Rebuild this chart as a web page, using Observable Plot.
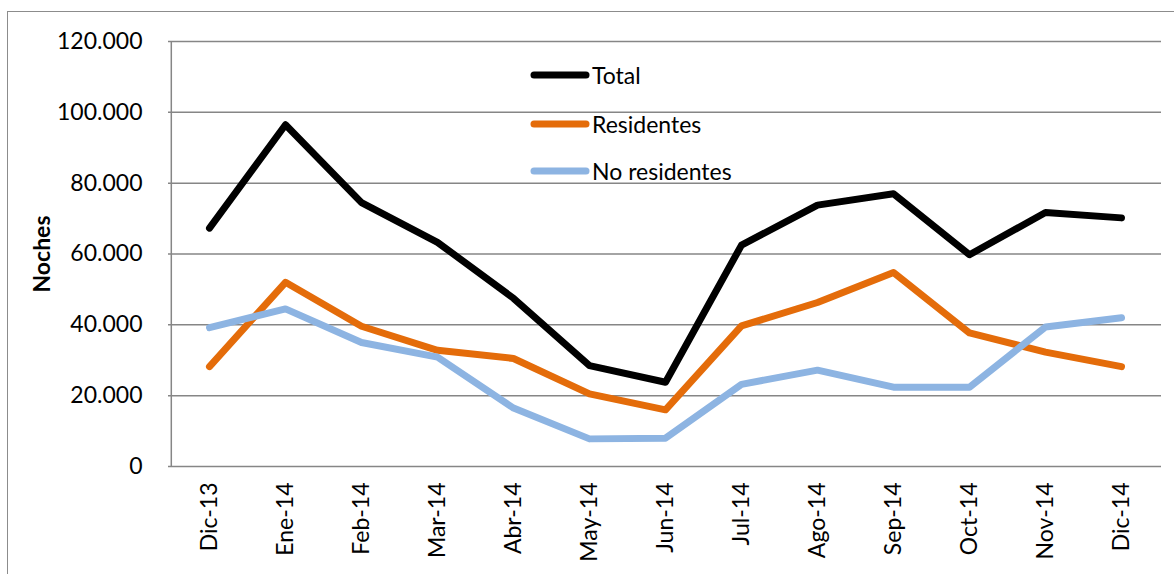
<!DOCTYPE html>
<html><head><meta charset="utf-8">
<script src="https://cdn.jsdelivr.net/npm/d3@7"></script>
<script src="https://cdn.jsdelivr.net/npm/@observablehq/plot@0.6"></script>
<style>
html,body{margin:0;padding:0;background:#fff;}
#wrap{position:relative;width:1174px;height:574px;overflow:hidden;}
#frame{position:absolute;left:7px;top:11px;width:1200px;height:600px;border:1.5px solid #8c8c8c;box-sizing:border-box;pointer-events:none;}
#legend{position:absolute;left:530px;top:58px;font-family:Lato,sans-serif;font-size:23px;color:#000;}
.li{position:absolute;left:0;display:flex;align-items:center;white-space:nowrap;}
.li svg{display:block;}
</style></head>
<body><div id="wrap"><div id="chart"></div><div id="frame"></div><div id="legend"></div></div>
<script>
const categories = ["Dic-13","Ene-14","Feb-14","Mar-14","Abr-14","May-14","Jun-14","Jul-14","Ago-14","Sep-14","Oct-14","Nov-14","Dic-14"];
const total = [67300, 96500, 74500, 63300, 47500, 28500, 23800, 62500, 73800, 77000, 59800, 71700, 70200];
const residentes = [28200, 52000, 39600, 32800, 30500, 20500, 16000, 39700, 46300, 54800, 37700, 32300, 28200];
const noResidentes = [39200, 44500, 35000, 30900, 16500, 7800, 8000, 23200, 27200, 22400, 22400, 39400, 42000];
const seriesNames = ["Total", "Residentes", "No residentes"];
const seriesColors = ["#000000", "#E46C0A", "#8DB4E2"];
const yTicks = [0, 20000, 40000, 60000, 80000, 100000, 120000];

const seriesValues = [total, residentes, noResidentes];
const rows = [];
seriesNames.forEach((s, i) => categories.forEach((c, j) => rows.push({serie: s, mes: c, valor: seriesValues[i][j]})));

const fmt = d3.formatLocale({decimal: ",", thousands: ".", grouping: [3]}).format(",d");

const chart = Plot.plot({
  width: 1174, height: 574,
  marginLeft: 168, marginRight: 13, marginTop: 41, marginBottom: 108,
  style: {fontFamily: "Lato, sans-serif", fontSize: "23px", color: "#000", background: "transparent"},
  x: {type: "point", domain: categories, padding: 0.5},
  y: {domain: [0, 120000]},
  color: {domain: seriesNames, range: seriesColors},
  marks: [
    Plot.gridY(yTicks, {stroke: "#868686", strokeOpacity: 1, strokeWidth: 1.5}),
    Plot.ruleX([0], {x: () => categories[0], stroke: "#868686", strokeWidth: 1.5, frameAnchor: "left", dx: -38.2}),
    Plot.axisY(yTicks, {tickSize: 0, tickPadding: 26, tickFormat: fmt, label: null}),
    Plot.axisX({tickSize: 0, tickPadding: 16, tickRotate: -90, label: null}),
    Plot.text(["Noches"], {frameAnchor: "left", dx: -126, rotate: -90, textAnchor: "middle", fontWeight: "bold", fontSize: 23}),
    Plot.line(rows, {x: "mes", y: "valor", z: "serie", stroke: "serie", strokeWidth: 7, strokeLinecap: "round", strokeLinejoin: "round"})
  ]
});
document.getElementById("chart").appendChild(chart);

const legend = document.getElementById("legend");
const tops = [0, 49, 96];
seriesNames.forEach((s, i) => {
  const d = document.createElement("div");
  d.className = "li";
  d.style.top = tops[i] + "px";
  d.innerHTML = `<svg width="60" height="34"><line x1="4" y1="17" x2="56" y2="17" stroke="${seriesColors[i]}" stroke-width="7" stroke-linecap="round"/></svg><span style="margin-left:2px">${s}</span>`;
  legend.appendChild(d);
});
</script></body></html>
